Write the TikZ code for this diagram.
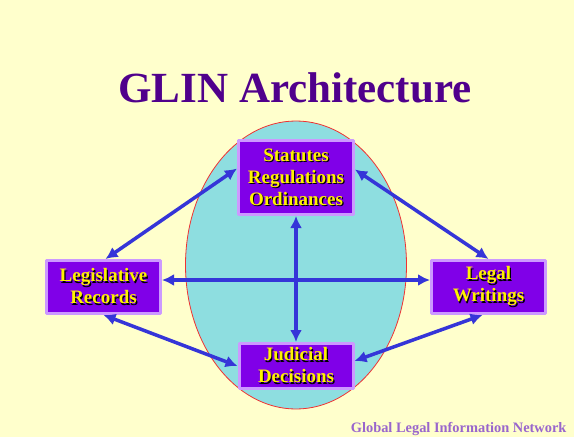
\documentclass[tikz,border=0pt]{standalone}
\usepackage{fontspec}
\setmainfont{Liberation Serif}
\usetikzlibrary{arrows.meta}
\definecolor{paper}{RGB}{255,255,204}
\definecolor{ovalfill}{RGB}{142,222,224}
\definecolor{ovalline}{RGB}{240,50,50}
\definecolor{boxfill}{RGB}{128,0,232}
\definecolor{boxline}{RGB}{204,153,255}
\definecolor{linkblue}{RGB}{53,53,216}
\definecolor{titlecol}{RGB}{80,0,140}
\definecolor{footcol}{RGB}{153,102,204}
\newcommand\shd[1]{\rlap{\kern1.2pt\raisebox{-1.2pt}{\textcolor{black}{#1}}}#1}
\begin{document}
\begin{tikzpicture}[x=1pt,y=-1pt,>={Latex[length=12pt,width=12pt]},line cap=round,line join=round,
  box/.style={draw=boxline,fill=boxfill,line width=3pt,text=yellow,align=center,inner sep=0pt,font=\bfseries\fontsize{19}{22}\selectfont},
  link/.style={<->,draw=linkblue,line width=3.5pt}]
  \fill[paper] (0,0) rectangle (574,437);
  \useasboundingbox (0,0) rectangle (574,437);
  \clip (0,0) rectangle (574,437);
  \node[font=\bfseries\fontsize{43}{50}\selectfont,text=titlecol,anchor=base] (title) at (295,102) {GLIN Architecture};
  \path[fill=ovalfill,draw=ovalline,line width=0.8pt] (296,265) ellipse [x radius=110.5pt,y radius=144pt];
  \node[box,minimum width=115pt,minimum height=74pt] (statutes) at (296,177.5) {\shd{Statutes}\\\shd{Regulations}\\\shd{Ordinances}};
  \node[box,minimum width=114pt,minimum height=53pt] (legis) at (103.5,287) {\shd{Legislative}\\\shd{Records}};
  \node[box,minimum width=114pt,minimum height=53pt] (legal) at (488.5,287) {\shd{Legal}\\\shd{Writings}};
  \node[box,minimum width=114pt,minimum height=45pt] (judicial) at (296,366) {\shd{Judicial}\\\shd{Decisions}};
  \draw[link] ([yshift=7pt]legis.east) -- ([yshift=7pt]legal.west);
  \draw[link] (statutes.south) -- (judicial.north);
  \draw[link] ([yshift=9pt]statutes.west) -- ([xshift=2pt]legis.north);
  \draw[link] ([yshift=8pt]statutes.east) -- (legal.north);
  \draw[link] (legis.south) -- (judicial.west);
  \draw[link] ([yshift=5pt]judicial.east) -- ([xshift=-6pt]legal.south);
  \node[font=\bfseries\fontsize{14.4}{16}\selectfont,text=footcol,anchor=base east] (foot) at (570,432.5) {Global Legal Information Network};
\end{tikzpicture}
\end{document}
